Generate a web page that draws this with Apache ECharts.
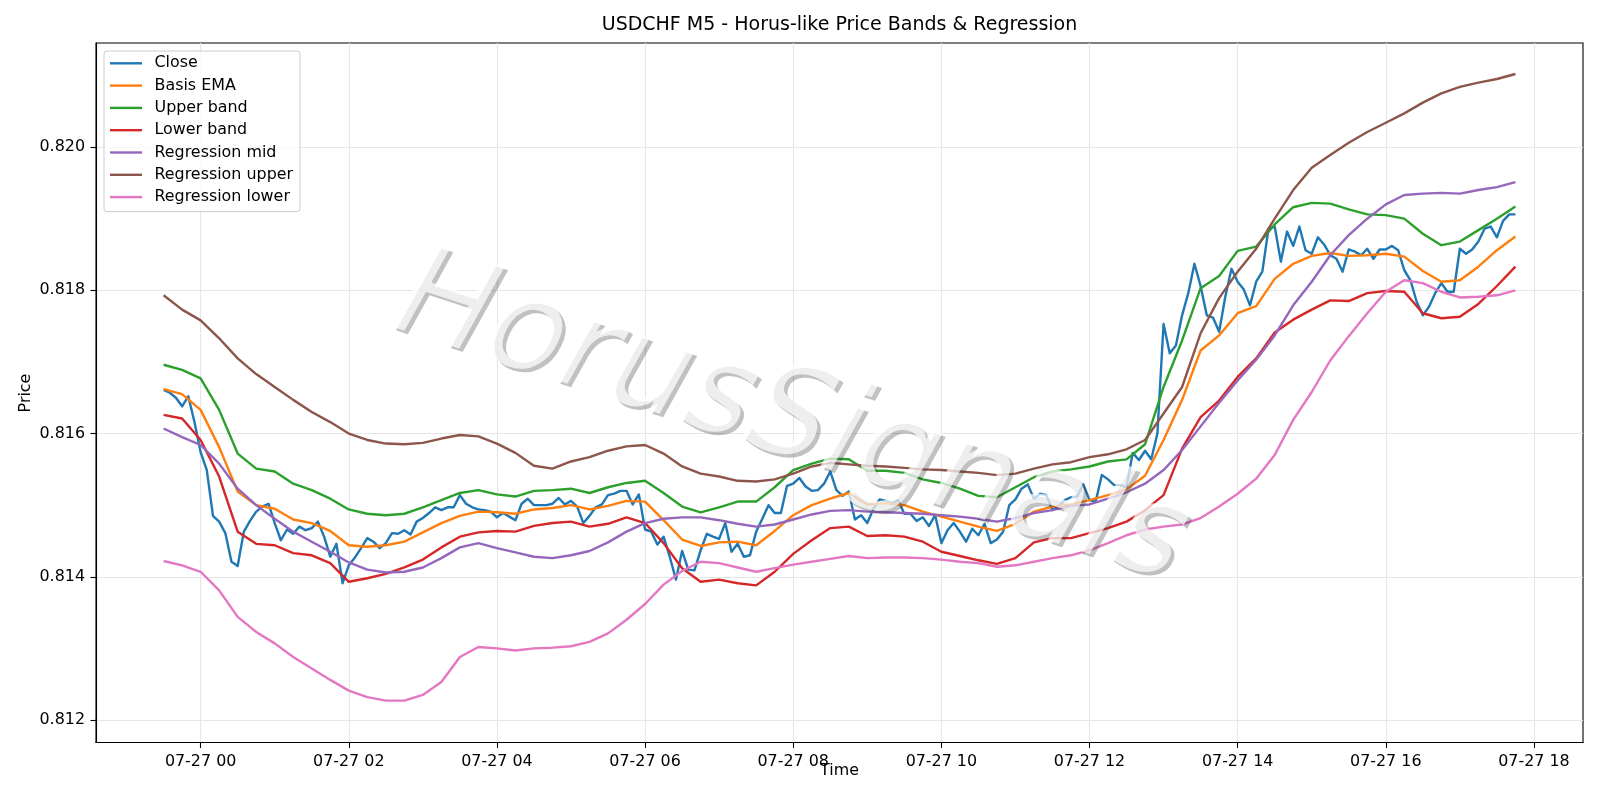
<!DOCTYPE html>
<html>
<head>
<meta charset="utf-8">
<title>USDCHF M5 - Horus-like Price Bands & Regression</title>
<script src="https://cdn.jsdelivr.net/npm/echarts@6/dist/echarts.min.js"></script>
<style>
  html, body { margin: 0; padding: 0; background: #fff; }
  #chart { width: 1600px; height: 800px; }
</style>
</head>
<body>
<div id="chart"></div>
<script>
// M5 bars, x in hours from 07-27 00:00 (first bar is 07-26 23:30)
const startHour = -0.5;
const barHours = 5 / 60;
const bandStep = 3; // bands and regression lines read every 3rd bar

const closeValues = [
  0.81661, 0.81657, 0.81650, 0.81638, 0.81652, 0.81616, 0.81574, 0.81549, 0.81485, 0.81477,
  0.81461, 0.81421, 0.81415, 0.81463, 0.81478, 0.81491, 0.81498, 0.81502, 0.81475, 0.81451,
  0.81466, 0.81460, 0.81470, 0.81465, 0.81468, 0.81477, 0.81456, 0.81428, 0.81446, 0.81391,
  0.81416, 0.81427, 0.81440, 0.81454, 0.81449, 0.81440, 0.81447,
  0.81461, 0.81460, 0.81465, 0.81459, 0.81477, 0.81482, 0.81489, 0.81497, 0.81493, 0.81497,
  0.81497, 0.81514, 0.81502, 0.81497, 0.81494, 0.81493, 0.81491, 0.81483, 0.81489, 0.81484,
  0.81479, 0.81502, 0.81509, 0.81500, 0.81500, 0.81500, 0.81502, 0.81510, 0.81501, 0.81506,
  0.81498, 0.81475, 0.81485, 0.81497, 0.81501, 0.81514, 0.81516, 0.81520,
  0.81520, 0.81501, 0.81515, 0.81466, 0.81463, 0.81445, 0.81456, 0.81428, 0.81396, 0.81436,
  0.81410, 0.81409, 0.81437, 0.81460, 0.81456, 0.81453, 0.81475, 0.81435, 0.81446, 0.81428,
  0.81430, 0.81463, 0.81481, 0.81500, 0.81489, 0.81489, 0.81527, 0.81530, 0.81538, 0.81526,
  0.81520, 0.81521, 0.81530, 0.81547, 0.81521, 0.81513, 0.81519,
  0.81480, 0.81486, 0.81475, 0.81495, 0.81508, 0.81506, 0.81503, 0.81507, 0.81488, 0.81488,
  0.81478, 0.81483, 0.81471, 0.81486, 0.81447, 0.81465, 0.81475, 0.81463, 0.81449, 0.81467,
  0.81458, 0.81474, 0.81447, 0.81452, 0.81463, 0.81500, 0.81508, 0.81523, 0.81529, 0.81509,
  0.81516, 0.81514, 0.81493, 0.81499, 0.81507, 0.81511, 0.81512,
  0.81529, 0.81507, 0.81505, 0.81542, 0.81536, 0.81528, 0.81528, 0.81525, 0.81573, 0.81563,
  0.81576, 0.81564, 0.81600, 0.81753, 0.81712, 0.81723, 0.81765, 0.81796, 0.81837, 0.81806,
  0.81765, 0.81762, 0.81742, 0.81791, 0.81830, 0.81812, 0.81801, 0.81779, 0.81812, 0.81826,
  0.81886, 0.81889, 0.81840, 0.81882, 0.81862, 0.81889,
  0.81856, 0.81851, 0.81874, 0.81864, 0.81849, 0.81844, 0.81826, 0.81857, 0.81854, 0.81849,
  0.81858, 0.81844, 0.81857, 0.81857, 0.81862, 0.81856, 0.81828, 0.81814, 0.81784, 0.81765,
  0.81777, 0.81796, 0.81810, 0.81798, 0.81798, 0.81858, 0.81851, 0.81857, 0.81868, 0.81886,
  0.81889, 0.81874, 0.81897, 0.81906, 0.81906
];

const basisEma = [
  0.81662, 0.81655, 0.81633, 0.81581, 0.81519, 0.81500, 0.81495, 0.81480, 0.81475, 0.81464, 0.81444, 0.81442, 0.81444,
  0.81449, 0.81462, 0.81475, 0.81485, 0.81491, 0.81490, 0.81488, 0.81494, 0.81496, 0.81500, 0.81494, 0.81499,
  0.81506, 0.81505, 0.81479, 0.81452, 0.81443, 0.81448, 0.81449, 0.81444, 0.81464, 0.81486, 0.81500, 0.81509, 0.81517,
  0.81501, 0.81503, 0.81500, 0.81491, 0.81484, 0.81477, 0.81470, 0.81464, 0.81474, 0.81491, 0.81498, 0.81501,
  0.81507, 0.81514, 0.81522, 0.81541, 0.81591, 0.81647, 0.81716, 0.81737, 0.81768, 0.81778, 0.81816,
  0.81837, 0.81848, 0.81852, 0.81848, 0.81849, 0.81851, 0.81847, 0.81827, 0.81812, 0.81814, 0.81833, 0.81856, 0.81875
];

const upperBand = [
  0.81696, 0.81689, 0.81677, 0.81633, 0.81572, 0.81551, 0.81547, 0.81530, 0.81521, 0.81509, 0.81494, 0.81488, 0.81486,
  0.81488, 0.81497, 0.81507, 0.81517, 0.81521, 0.81515, 0.81512, 0.81520, 0.81521, 0.81523, 0.81517, 0.81525,
  0.81531, 0.81534, 0.81517, 0.81498, 0.81490, 0.81497, 0.81505, 0.81505, 0.81525, 0.81549, 0.81558, 0.81565, 0.81564,
  0.81548, 0.81548, 0.81545, 0.81536, 0.81531, 0.81523, 0.81513, 0.81511, 0.81525, 0.81539, 0.81547, 0.81550,
  0.81554, 0.81561, 0.81564, 0.81585, 0.81665, 0.81730, 0.81803, 0.81820, 0.81855, 0.81861, 0.81892,
  0.81916, 0.81922, 0.81921, 0.81913, 0.81906, 0.81905, 0.81900, 0.81879, 0.81863, 0.81868, 0.81884, 0.81900, 0.81917
];

const lowerBand = [
  0.81626, 0.81621, 0.81591, 0.81540, 0.81463, 0.81446, 0.81444, 0.81433, 0.81430, 0.81419, 0.81393, 0.81398, 0.81404,
  0.81413, 0.81424, 0.81441, 0.81456, 0.81462, 0.81464, 0.81463, 0.81471, 0.81475, 0.81477, 0.81470, 0.81474,
  0.81483, 0.81475, 0.81447, 0.81412, 0.81393, 0.81396, 0.81391, 0.81388, 0.81407, 0.81432, 0.81451, 0.81468, 0.81470,
  0.81457, 0.81458, 0.81456, 0.81449, 0.81435, 0.81429, 0.81423, 0.81418, 0.81426, 0.81448, 0.81454, 0.81454,
  0.81461, 0.81468, 0.81477, 0.81493, 0.81514, 0.81579, 0.81623, 0.81646, 0.81679, 0.81705, 0.81741,
  0.81759, 0.81773, 0.81786, 0.81785, 0.81796, 0.81799, 0.81798, 0.81768, 0.81761, 0.81763, 0.81781, 0.81806, 0.81833
];

const regressionMid = [
  0.81607, 0.81595, 0.81584, 0.81558, 0.81523, 0.81500, 0.81481, 0.81463, 0.81449, 0.81435, 0.81420, 0.81410, 0.81406,
  0.81407, 0.81413, 0.81426, 0.81441, 0.81447, 0.81440, 0.81434, 0.81428, 0.81426, 0.81430, 0.81436, 0.81448,
  0.81463, 0.81475, 0.81481, 0.81483, 0.81483, 0.81479, 0.81474, 0.81470, 0.81473, 0.81480, 0.81487, 0.81492, 0.81493,
  0.81491, 0.81490, 0.81489, 0.81488, 0.81486, 0.81484, 0.81481, 0.81477, 0.81482, 0.81489, 0.81493, 0.81499,
  0.81501, 0.81509, 0.81518, 0.81530, 0.81549, 0.81577, 0.81610, 0.81643, 0.81674, 0.81703, 0.81737,
  0.81779, 0.81812, 0.81849, 0.81877, 0.81900, 0.81920, 0.81933, 0.81935, 0.81936, 0.81935, 0.81940, 0.81944, 0.81951
];

const regressionUpper = [
  0.81793, 0.81773, 0.81758, 0.81733, 0.81705, 0.81683, 0.81665, 0.81647, 0.81630, 0.81616, 0.81600, 0.81591, 0.81586,
  0.81585, 0.81587, 0.81593, 0.81598, 0.81596, 0.81586, 0.81573, 0.81555, 0.81551, 0.81561, 0.81567, 0.81576,
  0.81582, 0.81584, 0.81572, 0.81554, 0.81544, 0.81540, 0.81534, 0.81533, 0.81536, 0.81544, 0.81554, 0.81559, 0.81557,
  0.81555, 0.81554, 0.81552, 0.81550, 0.81549, 0.81547, 0.81545, 0.81542, 0.81544, 0.81551, 0.81557, 0.81560,
  0.81567, 0.81571, 0.81578, 0.81591, 0.81628, 0.81665, 0.81740, 0.81789, 0.81826, 0.81858, 0.81900,
  0.81940, 0.81971, 0.81989, 0.82006, 0.82021, 0.82034, 0.82047, 0.82062, 0.82075, 0.82084, 0.82090, 0.82095, 0.82102
];

const regressionLower = [
  0.81422, 0.81416, 0.81407, 0.81381, 0.81344, 0.81323, 0.81307, 0.81288, 0.81272, 0.81256, 0.81241, 0.81232, 0.81227,
  0.81227, 0.81235, 0.81253, 0.81288, 0.81302, 0.81300, 0.81297, 0.81300, 0.81301, 0.81303, 0.81309, 0.81321,
  0.81340, 0.81362, 0.81389, 0.81408, 0.81421, 0.81419, 0.81413, 0.81407, 0.81412, 0.81417, 0.81421, 0.81425, 0.81429,
  0.81426, 0.81427, 0.81427, 0.81426, 0.81424, 0.81421, 0.81419, 0.81414, 0.81416, 0.81421, 0.81426, 0.81430,
  0.81437, 0.81447, 0.81458, 0.81466, 0.81470, 0.81473, 0.81482, 0.81498, 0.81516, 0.81537, 0.81570,
  0.81619, 0.81658, 0.81702, 0.81736, 0.81768, 0.81798, 0.81814, 0.81810, 0.81798, 0.81790, 0.81791, 0.81793, 0.81800
];

const xTickHours = [0, 2, 4, 6, 8, 10, 12, 14, 16, 18];
const yTickValues = [0.812, 0.814, 0.816, 0.818, 0.820];

const font = 'DejaVu Sans';
const toPoints = (values, step) => values.map((v, i) => [startHour + i * step * barHours, v]);

const lines = [
  { name: 'Close', values: closeValues, step: 1, color: '#1f77b4' },
  { name: 'Basis EMA', values: basisEma, step: bandStep, color: '#ff7f0e' },
  { name: 'Upper band', values: upperBand, step: bandStep, color: '#2ca02c' },
  { name: 'Lower band', values: lowerBand, step: bandStep, color: '#d62728' },
  { name: 'Regression mid', values: regressionMid, step: bandStep, color: '#9467bd' },
  { name: 'Regression upper', values: regressionUpper, step: bandStep, color: '#8c564b' },
  { name: 'Regression lower', values: regressionLower, step: bandStep, color: '#e377c2' }
];

const chart = echarts.init(document.getElementById('chart'), null, { renderer: 'canvas' });

// watermark: a grey shadow copy under a translucent white copy
const watermark = (dx, dy, fill) => ({
  type: 'text',
  x: 790 + dx,
  y: 422 + dy,
  rotation: -0.315,
  z: 100,
  silent: true,
  style: {
    text: 'HorusSignals',
    fontFamily: font,
    fontStyle: 'italic',
    fontSize: 126,
    fill: fill,
    align: 'center',
    verticalAlign: 'middle'
  }
});

chart.setOption({
  animation: false,
  backgroundColor: '#ffffff',
  title: {
    text: 'USDCHF M5 - Horus-like Price Bands & Regression',
    left: 839.5,
    top: 16,
    padding: 0,
    textAlign: 'center',
    textStyle: { fontFamily: font, fontSize: 19, fontWeight: 'normal', color: '#000' }
  },
  legend: {
    orient: 'vertical',
    left: 104,
    top: 51,
    padding: [4.3, 7, 6.5, 6],
    backgroundColor: 'rgba(255,255,255,0.8)',
    borderColor: '#cccccc',
    borderWidth: 1,
    borderRadius: 3,
    icon: 'rect',
    itemWidth: 32,
    itemHeight: 2.4,
    itemGap: 6.3,
    textStyle: { fontFamily: font, fontSize: 15.9, color: '#000', lineHeight: 16, padding: [0, 0, 0, 7.5] },
    data: lines.map(l => l.name)
  },
  grid: {
    left: 96, right: 17, top: 43, bottom: 57.5,
    show: true, borderColor: '#000', borderWidth: 1.1, backgroundColor: 'transparent'
  },
  xAxis: {
    type: 'value',
    min: -1.4125,
    max: 18.6625,
    axisLine: { onZero: false, lineStyle: { color: '#000', width: 1.1 } },
    axisTick: { customValues: xTickHours, length: 5.5, lineStyle: { color: '#000', width: 1.1 } },
    axisLabel: {
      customValues: xTickHours,
      margin: 11,
      fontFamily: font, fontSize: 15.9, color: '#000',
      formatter: h => '07-27 ' + String(h).padStart(2, '0')
    },
    splitLine: { show: true, lineStyle: { color: '#e6e6e6', width: 1.2 } }
  },
  yAxis: {
    type: 'value',
    min: 0.811686,
    max: 0.821453,
    axisLine: { show: true, onZero: false, lineStyle: { color: '#000', width: 1.1 } },
    axisTick: { show: true, customValues: yTickValues, length: 5.5, lineStyle: { color: '#000', width: 1.1 } },
    axisLabel: {
      customValues: yTickValues,
      margin: 11,
      fontFamily: font, fontSize: 15.9, color: '#000',
      formatter: v => v.toFixed(3)
    },
    splitLine: { show: true, lineStyle: { color: '#e6e6e6', width: 1.2 } }
  },
  series: lines.map(l => ({
    name: l.name,
    type: 'line',
    data: toPoints(l.values, l.step),
    showSymbol: false,
    symbol: 'none',
    color: l.color,
    lineStyle: { color: l.color, width: 2.4, join: 'round' },
    emphasis: { disabled: true }
  })),
  graphic: [
    {
      type: 'text', x: 25.5, y: 393, rotation: Math.PI / 2, silent: true,
      style: { text: 'Price', fontFamily: font, fontSize: 15.9, fill: '#000', align: 'center', verticalAlign: 'middle' }
    },
    {
      type: 'text', x: 839.5, y: 771, silent: true,
      style: { text: 'Time', fontFamily: font, fontSize: 15.9, fill: '#000', align: 'center', verticalAlign: 'middle' }
    },
    watermark(3.5, 3.5, 'rgba(50,50,50,0.3)'),
    watermark(0, 0, 'rgba(255,255,255,0.72)')
  ]
});
</script>
</body>
</html>
